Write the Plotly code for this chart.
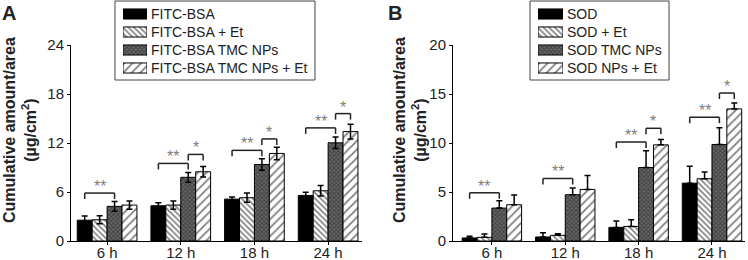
import plotly.graph_objects as go

categories = ["6 h", "12 h", "18 h", "24 h"]

# Panel A (FITC-BSA)
names_A = ["FITC-BSA", "FITC-BSA + Et", "FITC-BSA TMC NPs", "FITC-BSA TMC NPs + Et"]
vals_A = [
    [2.55, 4.32, 5.13, 5.58],
    [2.6, 4.4, 5.3, 6.15],
    [4.24, 7.8, 9.37, 12.02],
    [4.4, 8.48, 10.72, 13.4],
]
err_A = [
    [0.5, 0.35, 0.25, 0.4],
    [0.5, 0.5, 0.57, 0.65],
    [0.6, 0.6, 0.7, 0.7],
    [0.5, 0.65, 0.77, 0.9],
]
# (group, from bar, to bar, height, label)
brackets_A = [
    (0, 0, 2, 5.87, "**"),
    (1, 0, 2, 9.5, "**"),
    (1, 2, 3, 10.6, "*"),
    (2, 0, 2, 11.1, "**"),
    (2, 2, 3, 12.5, "*"),
    (3, 0, 2, 13.85, "**"),
    (3, 2, 3, 15.6, "*"),
]
yticks_A = [0, 6, 12, 18, 24]

# Panel B (SOD)
names_B = ["SOD", "SOD + Et", "SOD TMC NPs", "SOD NPs + Et"]
vals_B = [
    [0.31, 0.41, 1.39, 5.9],
    [0.37, 0.58, 1.49, 6.35],
    [3.36, 4.72, 7.5, 9.85],
    [3.7, 5.26, 9.81, 13.48],
]
err_B = [
    [0.17, 0.44, 0.65, 1.74],
    [0.34, 0.17, 0.68, 0.68],
    [0.75, 0.7, 1.7, 1.7],
    [1.0, 1.43, 0.55, 0.6],
]
brackets_B = [
    (0, 0, 2, 4.92, "**"),
    (1, 0, 2, 6.38, "**"),
    (2, 0, 2, 10.1, "**"),
    (2, 2, 3, 11.5, "*"),
    (3, 0, 2, 12.63, "**"),
    (3, 2, 3, 15.1, "*"),
]
yticks_B = [0, 5, 10, 15, 20]

FONT = "Liberation Sans, Arial, sans-serif"
W, H = 748, 260
BARGAP = 0.19

styles = [
    dict(color="black", pattern=None),
    dict(color="white", pattern=dict(shape="\\", fgcolor="black", bgcolor="white", size=4, solidity=0.4)),
    dict(color="#444", pattern=dict(shape="x", fgcolor="#111", bgcolor="#6a6a6a", size=3, solidity=0.5)),
    dict(color="white", pattern=dict(shape="/", fgcolor="black", bgcolor="white", size=6, solidity=0.3)),
]

def make_marker(i):
    st = styles[i]
    m = dict(color=st["color"], line=dict(color="black", width=1))
    if st["pattern"]:
        m["pattern"] = st["pattern"]
    return m

fig = go.Figure()
xs = list(range(len(categories)))

def add_panel(names, vals, errs, xa, ya, symmetric):
    for i, (nm, v, e) in enumerate(zip(names, vals, errs)):
        ey = dict(type="data", array=e, color="black", thickness=1.5, width=3, visible=True)
        if not symmetric:
            ey["symmetric"] = False
            ey["arrayminus"] = [0] * len(e)
        fig.add_trace(go.Bar(x=xs, y=v, name=nm, marker=make_marker(i), error_y=ey,
                             xaxis=xa, yaxis=ya, showlegend=False))

add_panel(names_A, vals_A, err_A, "x", "y", True)
add_panel(names_B, vals_B, err_B, "x2", "y2", False)

# legend swatches drawn as bars on small auxiliary axes, labels as tick labels
def add_legend(names, xa, ya):
    for i, nm in enumerate(names):
        fig.add_trace(go.Bar(y=[nm], x=[1], orientation="h", width=0.56, offset=-0.28,
                             marker=make_marker(i), xaxis=xa, yaxis=ya, showlegend=False,
                             hoverinfo="skip"))

add_legend(names_A, "x3", "y3")
add_legend(names_B, "x4", "y4")

nbars = 4
bw = (1 - BARGAP) / nbars
def bar_center(g, b):
    return g - (1 - BARGAP) / 2 + bw * (b + 0.5)

y_top_px, y_bot_px = 45, 241
plot_h = y_bot_px - y_top_px

def add_brackets(brs, xref, yref, ymax):
    tick = 6 * ymax / plot_h
    for g, b1, b2, h, lab in brs:
        x1, x2 = bar_center(g, b1), bar_center(g, b2)
        for (xa0, ya0, xa1, ya1) in [(x1, h - tick, x1, h), (x1, h, x2, h), (x2, h, x2, h - tick)]:
            fig.add_shape(type="line", xref=xref, yref=yref, x0=xa0, y0=ya0, x1=xa1, y1=ya1,
                          line=dict(color="#222", width=1.5))
        fig.add_annotation(x=(x1 + x2) / 2, y=h, xref=xref, yref=yref, text=lab, showarrow=False,
                           yanchor="bottom", yshift=-4, font=dict(family=FONT, size=16, color="#808080"))

add_brackets(brackets_A, "x", "y", 24)
add_brackets(brackets_B, "x2", "y2", 20)

ydom = [(H - y_bot_px) / H, (H - y_top_px) / H]
axis_common = dict(showline=True, linecolor="black", linewidth=1, ticks="outside", ticklen=3,
                   tickcolor="black", tickfont=dict(family=FONT, size=15, color="#222"),
                   showgrid=False, zeroline=False, automargin=False)

leg_dom = [(H - 77) / H, (H - 5) / H]
leg_x = dict(range=[0, 1], visible=False, fixedrange=True, automargin=False)
leg_y = dict(range=[3.5, -0.5], side="right", showline=False, ticks="", showgrid=False,
             zeroline=False, automargin=False, ticklabelstandoff=3,
             tickfont=dict(family=FONT, size=14, color="#222"))

fig.update_layout(
    width=W, height=H, margin=dict(l=0, r=0, t=0, b=0, autoexpand=False),
    paper_bgcolor="white", plot_bgcolor="rgba(0,0,0,0)",
    barmode="group", bargap=BARGAP, bargroupgap=0,
    font=dict(family=FONT, color="#222"),
    showlegend=False,
    xaxis=dict(domain=[71 / W, 362 / W], range=[-0.49, 3.46], tickvals=xs, ticktext=categories,
               anchor="y", ticklabelstandoff=-5, **axis_common),
    yaxis=dict(domain=ydom, range=[0, 24], tickvals=yticks_A, anchor="x", **axis_common),
    xaxis2=dict(domain=[453 / W, 745 / W], range=[-0.53, 3.45], tickvals=xs, ticktext=categories,
                anchor="y2", ticklabelstandoff=-5, **axis_common),
    yaxis2=dict(domain=ydom, range=[0, 20], tickvals=yticks_B, anchor="x2", **axis_common),
    xaxis3=dict(domain=[123 / W, 147 / W], anchor="y3", **leg_x),
    yaxis3=dict(domain=leg_dom, anchor="x3", **leg_y),
    xaxis4=dict(domain=[538 / W, 563 / W], anchor="y4", **leg_x),
    yaxis4=dict(domain=leg_dom, anchor="x4", **leg_y),
)

# legend boxes
for x0, x1 in [(115, 315), (530, 669)]:
    fig.add_shape(type="rect", xref="paper", yref="paper", x0=x0 / W, x1=x1 / W,
                  y0=(H - 80) / H, y1=(H - 1) / H, line=dict(color="#444", width=1),
                  fillcolor="rgba(0,0,0,0)", layer="below")

ytitle = "<b>Cumulative amount/area<br>(µg/cm<sup>2</sup>)</b>"
for xc in (20, 410):
    fig.add_annotation(x=xc / W, y=(H - 130) / H, xref="paper", yref="paper", text=ytitle,
                       xanchor="center", yanchor="middle", textangle=-90, showarrow=False,
                       font=dict(family=FONT, size=16, color="#222"))
fig.add_annotation(x=0, y=1, xref="paper", yref="paper", xanchor="left", yanchor="top",
                   text="<b>A</b>", showarrow=False, font=dict(family=FONT, size=20, color="#222"))
fig.add_annotation(x=386 / W, y=1, xref="paper", yref="paper", xanchor="left", yanchor="top",
                   text="<b>B</b>", showarrow=False, font=dict(family=FONT, size=20, color="#222"))

fig.write_html("out.html", config={"displayModeBar": False},
               post_script="document.body.style.margin='0';document.body.style.overflow='hidden';")
